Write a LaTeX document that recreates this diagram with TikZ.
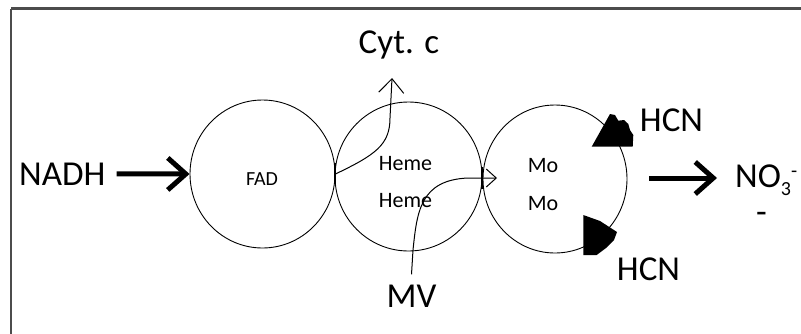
\documentclass[tikz,border=0pt]{standalone}
\usepackage{fontspec}
\setmainfont{Carlito}
\usetikzlibrary{arrows.meta,shapes.geometric}
\begin{document}
\begin{tikzpicture}[x=1pt,y=-1pt,
  lbl/.style={inner sep=0pt, font=\fontsize{35}{40}\selectfont},
  small/.style={inner sep=0pt, font=\fontsize{22}{26}\selectfont},
  disc/.style={draw, ellipse, line width=0.9pt, inner sep=0pt},
  bigarrow/.style={line width=5pt, -{Straight Barb[length=18pt,width=32pt]}},
  cytarrow/.style={line width=1pt, -{Straight Barb[length=14pt,width=25pt]}},
  mvarrow/.style={line width=1pt, -{Straight Barb[length=10pt,width=18pt]}},
  frameline/.style={draw=black!70, line width=2.5pt},
  contact/.style={line width=2.2pt},
  tri/.style={fill=black}
]
\useasboundingbox (0,0) rectangle (801,333);
\clip (0,0) rectangle (801,333);
\fill[white] (0,0) rectangle (801,333);
\draw[frameline] (11,8.5) -- (830,8.5) (11,8.5) -- (11,350);

% discs
\node[disc, minimum width=145pt, minimum height=148pt] (fad) at (262.5,174) {};
\node[disc, minimum width=147pt, minimum height=149pt] (heme) at (408.5,176.5) {};
\node[disc, minimum width=144pt, minimum height=148pt] (mo) at (555,179) {};

% inner texts
\node[small, font=\fontsize{20}{24}\selectfont, anchor=base] (fadt) at (262,185) {FAD};
\node[small, anchor=base] (h1) at (405.5,170) {Heme};
\node[small, anchor=base] (h2) at (405.5,207) {Heme};
\node[small, anchor=base] (m1) at (543,172) {Mo};
\node[small, anchor=base] (m2) at (543,210) {Mo};

% outer labels
\node[lbl, anchor=base west] (nadh) at (19,185) {NADH};
\node[lbl, anchor=base] (cyt) at (399,53) {Cyt. c};
\node[lbl, anchor=base] (hcn1) at (671.5,131) {HCN};
\node[lbl, anchor=base] (hcn2) at (648.5,280) {HCN};
\node[lbl, anchor=base] (mv) at (411.5,307) {MV};
\node[lbl, anchor=base west] (no3) at (735,187) {NO\raisebox{-8pt}{\fontsize{20}{20}\selectfont 3}\raisebox{10pt}{\fontsize{20}{20}\selectfont -}};
\node[lbl, anchor=base] (dash) at (761.5,223) {-};

% contact marks
\draw[contact] (335,163) -- (335,184);
\draw[contact] (482,167) -- (482,189);

% connectors
\coordinate (cyttip) at (392,78);
\coordinate (mvtip) at (497,178);
\coordinate (no3tip) at (717,178);
\draw[bigarrow] (nadh.east) ++(11,0) -- (fad.west);
\draw[bigarrow] (mo.east) ++(22,-1) -- (no3tip);
\draw[cytarrow] (fad.east) .. controls (375,155) and (390,145) .. (390,118) -- (cyttip);
\draw[mvarrow] ([yshift=10pt]mv.north) -- (413,250) .. controls (417,212) and (420,180) .. (468,178) -- (mvtip);

% HCN triangles
\fill[tri] (591.7,146.7) -- (610,114) -- (615,115) -- (618.3,120.7) -- (624,120) -- (628.3,124) -- (630,130) -- (633.3,135) -- (632.7,146.7) -- cycle;
\fill[tri] (583.3,215) -- (600,221) -- (617,232) -- (614,240) -- (606,248) -- (596.7,255) -- (583.3,255) -- cycle;
\end{tikzpicture}
\end{document}
